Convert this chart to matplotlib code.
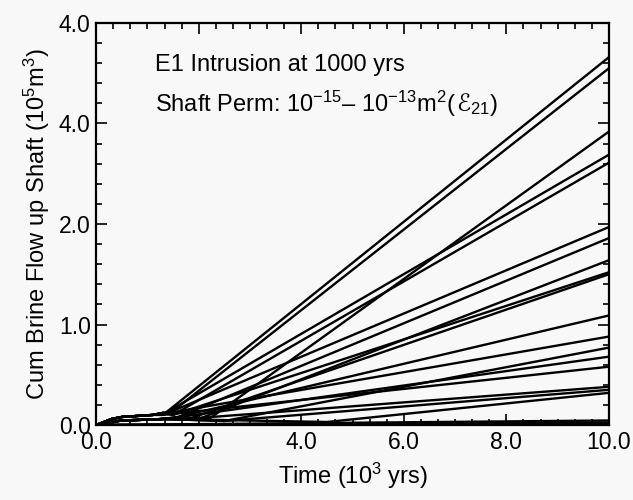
"""Cumulative brine flow up shaft, E1 intrusion at 1000 yrs"""
import numpy as np
import matplotlib
matplotlib.use("Agg")
import matplotlib.pyplot as plt
from matplotlib.ticker import FixedLocator, FixedFormatter, AutoMinorLocator

plt.rcParams['font.family'] = ['Liberation Sans', 'DejaVu Sans']
plt.rcParams['mathtext.fontset'] = 'custom'
plt.rcParams['mathtext.rm'] = 'Liberation Sans'
plt.rcParams['mathtext.it'] = 'Liberation Sans:italic'

# early (pre-intrusion) part shared by the realizations
early_x = [0.0, 0.15, 0.3, 0.5, 0.8, 1.1, 1.3]
early_hi = [0.0, 0.03, 0.06, 0.08, 0.09, 0.10, 0.12]
early_lo = [0.0, 0.015, 0.03, 0.045, 0.05, 0.055, 0.06]

# each realization: where it leaves the early curve, and value at 10,000 yrs
depart_x = [1.35, 1.45, 2.2, 1.35, 1.5, 1.4, 1.6, 2.0, 1.5, 1.8,
            1.6, 1.3, 2.5, 1.5, 1.3, 2.0, 2.5, 4.5]
depart_y = [0.12, 0.12, 0.06, 0.12, 0.10, 0.12, 0.08, 0.06, 0.10, 0.06,
            0.08, 0.11, 0.04, 0.07, 0.10, 0.07, 0.04, 0.03]
end_y = [3.66, 3.55, 2.92, 2.69, 2.61, 1.97, 1.86, 1.64, 1.52, 1.50,
         1.09, 0.88, 0.77, 0.68, 0.58, 0.38, 0.35, 0.32]
use_hi = [1, 1, 0, 1, 1, 1, 0, 0, 1, 0, 0, 1, 0, 0, 1, 0, 0, 0]

# realizations that stay near zero
flat_x = [0.0, 10.0]
flat_ends = [0.045, 0.025, 0.012, 0.005]

yticks = [0.0, 1.0, 2.0, 3.0, 4.0]
ytick_labels = ["0.0", "1.0", "2.0", "4.0", "4.0"]
xticks = [0.0, 2.0, 4.0, 6.0, 8.0, 10.0]
xtick_labels = ["0.0", "2.0", "4.0", "6.0", "8.0", "10.0"]

fig = plt.figure(figsize=(6.33, 5.0), dpi=100)
fig.patch.set_facecolor('#f8f8f8')
ax = fig.add_axes([0.152, 0.15, 0.81, 0.804])
ax.set_facecolor('#f8f8f8')

for dx, dy, ey, hi in zip(depart_x, depart_y, end_y, use_hi):
    base = early_hi if hi else early_lo
    xs = [x for x in early_x if x < dx]
    ys = base[:len(xs)]
    xs = xs + [dx, 10.0]
    ys = list(ys) + [dy, ey]
    ax.plot(xs, ys, color='black', linewidth=1.7, solid_joinstyle='round')

for fe in flat_ends:
    ax.plot(flat_x, [0.0, fe], color='black', linewidth=1.7)

ax.set_xlim(0, 10)
ax.set_ylim(0, 4)

ax.xaxis.set_major_locator(FixedLocator(xticks))
ax.xaxis.set_major_formatter(FixedFormatter(xtick_labels))
ax.yaxis.set_major_locator(FixedLocator(yticks))
ax.yaxis.set_major_formatter(FixedFormatter(ytick_labels))
ax.xaxis.set_minor_locator(AutoMinorLocator(6))
ax.yaxis.set_minor_locator(AutoMinorLocator(5))
ax.tick_params(which='both', direction='in', top=True, right=True, width=1.2)
ax.tick_params(which='major', length=8, labelsize=16.5, pad=4)
ax.tick_params(which='minor', length=4.5)
for sp in ax.spines.values():
    sp.set_linewidth(1.6)

ax.set_xlabel(r"Time (10$^3$ yrs)", fontsize=17, labelpad=5)
ax.set_ylabel(r"Cum Brine Flow up Shaft (10$^5$m$^3$)", fontsize=17, labelpad=5)

ax.text(1.15, 3.52, "E1 Intrusion at 1000 yrs", fontsize=17, va='baseline')

# second note is built from pieces so the script E can come from DejaVu Sans
pieces = [(r"Shaft Perm: 10$^{-15}$– 10$^{-13}$m$^2$(", 'Liberation Sans', 'normal'),
          ("ℰ", 'DejaVu Sans', 'italic'),
          (r"$_{21}$)", 'Liberation Sans', 'normal')]
x_pos = 1.15
fig.canvas.draw()
renderer = fig.canvas.get_renderer()
for s, fam, sty in pieces:
    t = ax.text(x_pos, 3.12, s, fontsize=17, va='baseline', family=fam, style=sty)
    bb = t.get_window_extent(renderer=renderer)
    x_pos = ax.transData.inverted().transform((bb.x1, 0))[0]

fig.savefig("out.png", dpi=100, facecolor=fig.get_facecolor())
